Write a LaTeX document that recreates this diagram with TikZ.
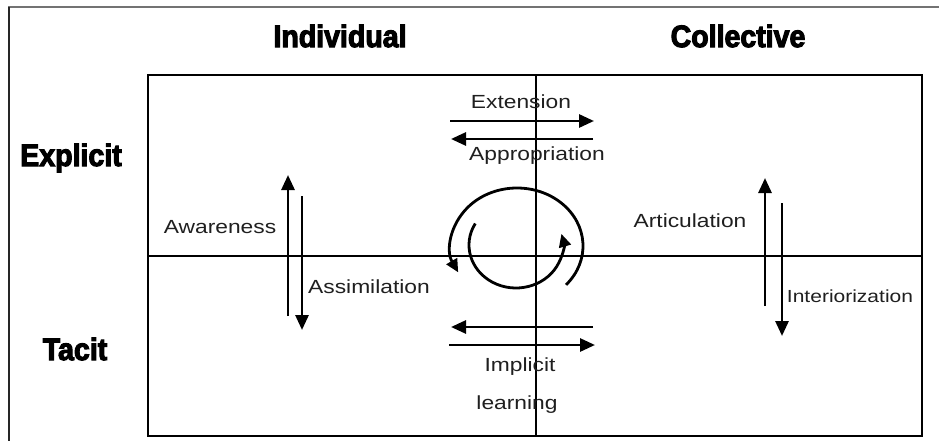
\documentclass[tikz,border=0pt]{standalone}
\usepackage{fontspec}
\setmainfont{Liberation Sans}
\newfontfamily\labfont[FakeStretch=1.2]{Liberation Sans}
\newfontfamily\headfont[FakeBold=3.5,FakeStretch=0.92]{Liberation Sans Bold}
\usetikzlibrary{arrows.meta}
\tikzset{
  head/.style={font=\headfont\fontsize{31}{32}\selectfont, inner sep=0pt},
  lab/.style={font=\labfont\fontsize{19}{20}\selectfont, text=black!88, inner sep=0pt},
  arr/.style={line width=2.8pt, -{Triangle[length=15pt,width=13pt]}},
  carr/.style={line width=2.8pt, -{Triangle[length=13pt,width=12pt]}},
  boxline/.style={line width=2.8pt}
}
\begin{document}
\begin{tikzpicture}[x=1pt,y=-1pt]
\useasboundingbox (0,0) rectangle (939,441);
% outer frame
\draw[black!55, line width=1.5pt] (8,7) -- (939,7);
\draw[black!85, line width=1.2pt] (9,7) -- (9,441);
% grid
\coordinate (tl) at (148,75);
\coordinate (br) at (922,436);
\draw[boxline] (tl) rectangle (br);
\coordinate (vt) at (536,75);
\coordinate (vb) at (536,436);
\coordinate (hl) at (148,256);
\coordinate (hr) at (922,256);
\draw[boxline] (vt) -- (vb);
\draw[boxline] (hl) -- (hr);
% headings
\node[head] (ind) at (340,36) {Individual};
\node[head] (col) at (738,36) {Collective};
\node[head] (exp) at (71,158) {Explicit};
\node[head] (tac) at (75,349) {Tacit};
% top arrows
\coordinate (e1) at (450,121); \coordinate (e2) at (594,121);
\coordinate (a1) at (593,139); \coordinate (a2) at (451,139);
\draw[arr] (e1) -- (e2);
\draw[arr] (a1) -- (a2);
\node[lab] (ext) at (521,102) {Extension};
\node[lab] (app) at (537,156) {Appropriation};
% bottom arrows
\coordinate (i1) at (593,327); \coordinate (i2) at (451,327);
\coordinate (j1) at (449,345); \coordinate (j2) at (595,345);
\draw[arr] (i1) -- (i2);
\draw[arr] (j1) -- (j2);
\node[lab] (impl) at (520,367) {Implicit};
\node[lab] (learn) at (517,405) {learning};
% left arrows
\coordinate (w1) at (288,316); \coordinate (w2) at (288,175);
\coordinate (s1) at (302,196); \coordinate (s2) at (302,330);
\draw[arr] (w1) -- (w2);
\draw[arr] (s1) -- (s2);
\node[lab] (awa) at (220,227) {Awareness};
\node[lab] (ass) at (369,287) {Assimilation};
% right arrows
\coordinate (r1) at (765,306); \coordinate (r2) at (765,178);
\coordinate (d1) at (782,203); \coordinate (d2) at (782,336);
\draw[arr] (r1) -- (r2);
\draw[arr] (d1) -- (d2);
\node[lab] (art) at (690,221) {Articulation};
\node[lab, font=\labfont\fontsize{17.5}{19}\selectfont] (int) at (850,296) {Interiorization};
% cycle arcs
\coordinate (oc) at (517,246);
\coordinate (ic) at (516,245);
\draw[carr] (oc) ++(42:66 and 58) arc[start angle=42, end angle=-207, x radius=66, y radius=58];
\draw[carr] (ic) ++(-150:47 and 43) arc[start angle=-150, end angle=-375, x radius=47, y radius=43];
\end{tikzpicture}
\end{document}
